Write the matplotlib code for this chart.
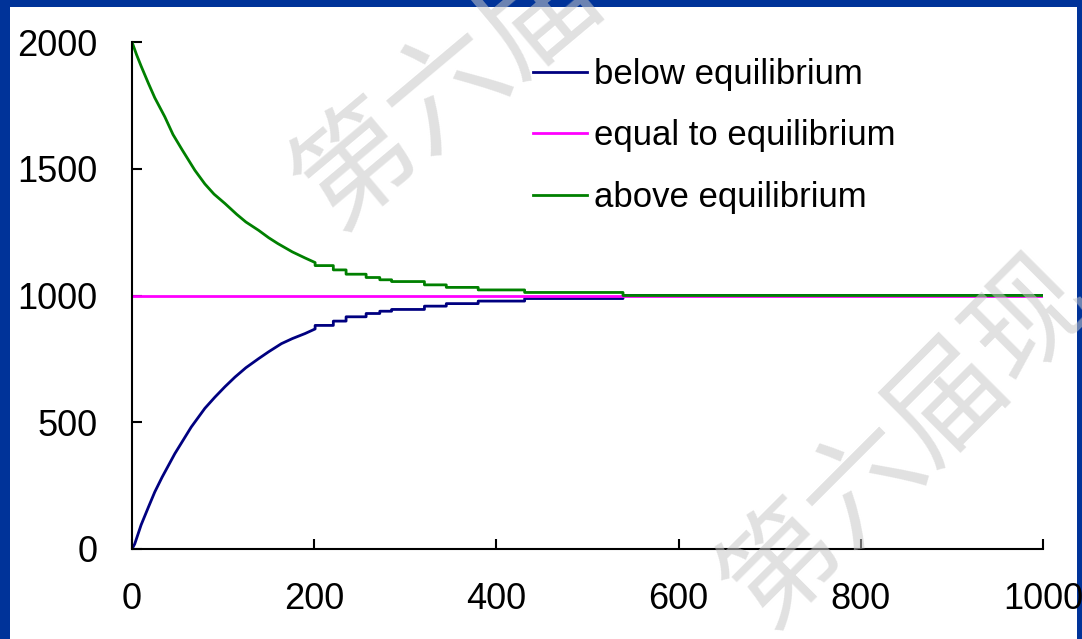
import matplotlib
matplotlib.use("Agg")
import matplotlib.pyplot as plt
from matplotlib.patches import Rectangle

# values
below_x = [0, 3, 10, 18, 25, 33, 47, 65, 80, 91, 102, 113, 125, 139, 150, 164, 176, 190, 201,
           201, 221, 221, 235, 235, 257, 257, 272, 272, 285, 285, 321, 321, 345, 345, 380,
           380, 431, 431, 539, 539, 1000]
below_y = [0, 20, 95, 165, 225, 283, 376, 481, 555, 599, 640, 678, 715, 751, 778, 810, 830, 850, 868,
           882, 882, 899, 899, 916, 916, 929, 929, 938, 938, 945, 945, 958, 958, 968, 968,
           978, 978, 988, 988, 1000, 1000]

equal_x = [0, 1000]
equal_y = [1000, 1000]

above_x = [0, 5, 10, 18, 25, 36, 45, 55, 69, 80, 90, 102, 115, 125, 139, 150, 160, 176, 190, 201,
           201, 221, 221, 235, 235, 257, 257, 272, 272, 285, 285, 321, 321, 345, 345, 380,
           380, 431, 431, 539, 539, 1000]
above_y = [2000, 1950, 1905, 1837, 1780, 1705, 1635, 1575, 1494, 1440, 1400, 1363, 1320, 1290, 1257,
           1228, 1205, 1172, 1148, 1130,
           1118, 1118, 1101, 1101, 1084, 1084, 1071, 1071, 1062, 1062, 1055, 1055, 1042, 1042, 1032,
           1032, 1022, 1022, 1012, 1012, 1000, 1000]

labels = ["below equilibrium", "equal to equilibrium", "above equilibrium"]
colors = ["#000080", "#FF00FF", "#008000"]
x_ticks = [0, 200, 400, 600, 800, 1000]
y_ticks = [0, 500, 1000, 1500, 2000]

plt.rcParams["font.family"] = ["Liberation Sans", "DejaVu Sans"]

W, H = 1082, 639
fig = plt.figure(figsize=(W / 100, H / 100), dpi=100, facecolor="#003399")
# white slide area inside the blue frame
fig.patches.append(Rectangle((10 / W, 0), (1077 - 10) / W, (H - 7) / H,
                             transform=fig.transFigure, facecolor="white",
                             edgecolor="none", zorder=-10))

ax = fig.add_axes([132 / W, 90 / H, (1043 - 132) / W, (597 - 90) / H])
ax.set_facecolor("none")
ax.set_zorder(1)

ax.plot(below_x, below_y, color=colors[0], lw=2.0, label=labels[0])
ax.plot(equal_x, equal_y, color=colors[1], lw=2.0, label=labels[1])
ax.plot(above_x, above_y, color=colors[2], lw=2.0, label=labels[2])

ax.set_xlim(0, 1000)
ax.set_ylim(0, 2000)
ax.set_xticks(x_ticks)
ax.set_yticks(y_ticks)
for s in ["top", "right"]:
    ax.spines[s].set_visible(False)
for s in ["left", "bottom"]:
    ax.spines[s].set_linewidth(1.5)
ax.tick_params(axis="both", direction="in", length=7, width=1.5, labelsize=26)
ax.tick_params(axis="x", pad=24)
ax.tick_params(axis="y", pad=25)

leg = fig.legend(loc="upper left", bbox_to_anchor=(533 / W, 1 - 58 / H), frameon=False,
                 fontsize=25, handlelength=1.55, handletextpad=0.2, labelspacing=0.82,
                 borderpad=0, borderaxespad=0)
leg.set_zorder(2)

# watermark
wm = "第六届现"
fig.text(495 / W, 1 - 52 / H, wm, fontsize=86, color="#c8c8c8", alpha=0.55,
         rotation=40, ha="center", va="center", rotation_mode="anchor",
         family=["Noto Sans CJK SC"], zorder=10)
fig.text(908 / W, 1 - 442 / H, wm, fontsize=84, color="#c8c8c8", alpha=0.55,
         rotation=45, ha="center", va="center", rotation_mode="anchor",
         family=["Noto Sans CJK SC"], zorder=10)

fig.savefig("out.png", dpi=100, facecolor=fig.get_facecolor())
